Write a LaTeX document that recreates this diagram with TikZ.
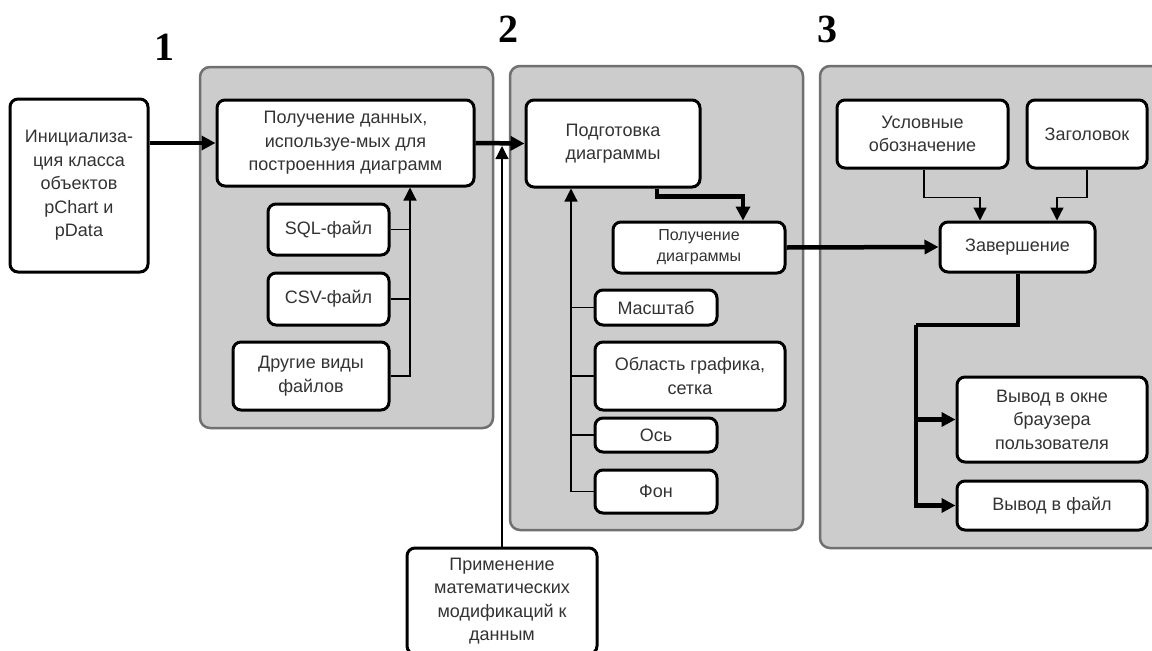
\documentclass[tikz,border=0pt]{standalone}
\usepackage{fontspec}
\setmainfont{Liberation Sans}
\newfontfamily\numfont{Liberation Serif}
\usetikzlibrary{arrows.meta}
\definecolor{panelfill}{HTML}{CCCCCC}
\definecolor{panelline}{HTML}{707070}
\definecolor{txt}{HTML}{333333}
\tikzset{
  panel/.style={fill=panelfill, draw=panelline, line width=2.5pt, rounded corners=10pt},
  box/.style={draw=black, fill=white, line width=3pt, rounded corners=8pt, align=center,
    inner sep=0pt, text=txt, font=\fontsize{18}{23.5}\selectfont},
  num/.style={font=\numfont\bfseries\fontsize{40}{42}\selectfont, inner sep=0pt},
  thickarrow/.style={line width=4.5pt, -{Triangle[length=14pt,width=14pt]}},
  thickline/.style={line width=4.5pt},
  thinarrow/.style={line width=1.2pt, -{Triangle[length=13pt,width=13pt]}},
  thinline/.style={line width=1.2pt},
}
\begin{document}
\begin{tikzpicture}[x=1pt,y=-1pt]
\clip (0,0) rectangle (1152,651);
\fill[white] (0,0) rectangle (1152,651);
% panels
\draw[panel] (200,67) rectangle (493,428);
\draw[panel] (510,66) rectangle (803,530);
\draw[panel] (820,66) rectangle (1175,548);
% numbers
\node[num] (n1) at (164,47) {1};
\node[num] (n2) at (508,29) {2};
\node[num] (n3) at (827,29) {3};
% nodes
\node[box, minimum width=138pt, minimum height=173pt] (init) at (79,185.5) {Инициализа-\\ция класса\\объектов\\pChart и\\pData};
\node[box, minimum width=257pt, minimum height=86pt] (getdata) at (345.5,143) {Получение данных,\\используе-мых для\\построенния диаграмм};
\node[box, minimum width=121pt, minimum height=51pt] (sql) at (328.5,229.5) {SQL-файл};
\node[box, minimum width=121pt, minimum height=52pt] (csv) at (328.5,299) {CSV-файл};
\node[box, minimum width=156pt, minimum height=68pt] (other) at (311,376) {Другие виды\\файлов};
\node[box, minimum width=174pt, minimum height=87pt] (prep) at (613,143.5) {Подготовка\\диаграммы};
\node[box, minimum width=172pt, minimum height=51pt, font=\fontsize{16}{21}\selectfont] (getdiag) at (699,247.5) {Получение\\диаграммы};
\node[box, minimum width=122pt, minimum height=35pt] (mast) at (656,307.5) {Масштаб};
\node[box, minimum width=190pt, minimum height=68pt] (area) at (690,376) {Область графика,\\сетка};
\node[box, minimum width=122pt, minimum height=34pt] (axis) at (656,435) {Ось};
\node[box, minimum width=122pt, minimum height=43pt] (bg) at (656,491.5) {Фон};
\node[box, minimum width=190pt, minimum height=106pt] (math) at (502,601) {Применение\\математических\\модификаций к\\данным};
\node[box, minimum width=171pt, minimum height=68pt] (legend) at (922.5,134) {Условные\\обозначение};
\node[box, minimum width=120pt, minimum height=68pt] (title) at (1087,134) {Заголовок};
\node[box, minimum width=155pt, minimum height=50pt] (finish) at (1017.5,247) {Завершение};
\node[box, minimum width=190pt, minimum height=85pt] (out1) at (1052,419.5) {Вывод в окне\\браузера\\пользователя};
\node[box, minimum width=190pt, minimum height=49pt] (out2) at (1052,505.5) {Вывод в файл};
% helper coordinates
\coordinate (bus1) at (410,0);
\coordinate (bus2) at (571,0);
\coordinate (mathx) at (502,0);
\coordinate (p1) at (657,0);
\coordinate (p2) at (743,0);
\coordinate (l1) at (924,0);
\coordinate (l2) at (980,0);
\coordinate (t2) at (1057,0);
\coordinate (f1) at (1018,0);
\coordinate (j3) at (916,325);
\coordinate (mathend) at (502,146);
% connectors
\draw[thickarrow] (init.east |- getdata.west) -- (getdata.west);
\draw[thickarrow] (getdata.east) -- (prep.west);
\draw[thinarrow] (math.north -| mathx) -- (mathend);
\draw[thinline] (sql.east) -- (sql.east -| bus1);
\draw[thinline] (csv.east) -- (csv.east -| bus1);
\draw[thinarrow] (other.east) -| (getdata.south -| bus1);
\draw[thinline] (mast.west) -- (mast.west -| bus2);
\draw[thinline] (area.west) -- (area.west -| bus2);
\draw[thinline] (axis.west) -- (axis.west -| bus2);
\draw[thinarrow] (bg.west) -| (prep.south -| bus2);
\draw[thickarrow] (prep.south -| p1) -- ++(0,8) -| (getdiag.north -| p2);
\draw[thickarrow] (getdiag.east) -- (finish.west);
\draw[thinarrow] (legend.south -| l1) -- ++(0,28) -| (finish.north -| l2);
\draw[thinarrow] (title.south) -- ++(0,28) -| (finish.north -| t2);
\draw[thickline] (finish.south -| f1) |- (j3);
\draw[thickarrow] (j3) |- (out2.west);
\draw[thickarrow] (j3 |- out1.west) -- (out1.west);
\end{tikzpicture}
\end{document}
